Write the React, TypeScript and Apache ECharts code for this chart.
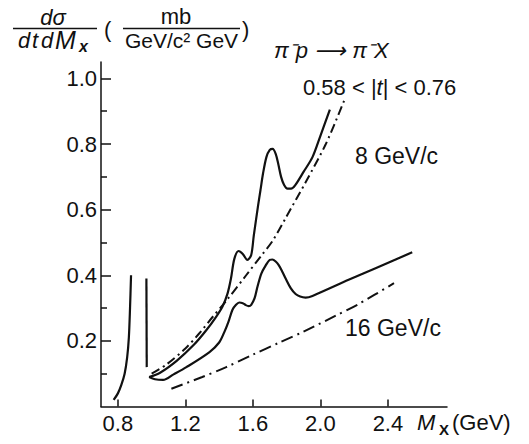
import React, { useEffect, useRef } from "react";
import * as echarts from "echarts";

const xTickValues = [0.8, 1.2, 1.6, 2.0, 2.4];
const yMajorValues = [0.2, 0.4, 0.6, 0.8, 1.0];
const yMinorValues = [0.1, 0.3, 0.5, 0.7, 0.9];

const leftSpike: [number, number][] = [
  [0.775, 0.02], [0.8, 0.04], [0.82, 0.065], [0.84, 0.1], [0.855, 0.15],
  [0.865, 0.21], [0.872, 0.3], [0.878, 0.4],
];
const rightEdge: [number, number][] = [
  [0.969, 0.39], [0.971, 0.12],
];
const solid8: [number, number][] = [
  [0.985, 0.09], [1.05, 0.103], [1.15, 0.14], [1.25, 0.188], [1.32, 0.23], [1.38, 0.272],
  [1.42, 0.305], [1.45, 0.345], [1.47, 0.39], [1.49, 0.45], [1.515, 0.474], [1.54, 0.465],
  [1.567, 0.447], [1.59, 0.462], [1.605, 0.52], [1.63, 0.61], [1.645, 0.66], [1.66, 0.71],
  [1.68, 0.76], [1.7, 0.782], [1.717, 0.785], [1.735, 0.77], [1.75, 0.74], [1.767, 0.7],
  [1.785, 0.675], [1.805, 0.664], [1.826, 0.664], [1.85, 0.674], [1.9, 0.715], [1.953, 0.76],
  [2.0, 0.825], [2.056, 0.905],
];
const solid16: [number, number][] = [
  [0.985, 0.09], [1.02, 0.083], [1.068, 0.081], [1.13, 0.098], [1.206, 0.12], [1.343, 0.166],
  [1.4, 0.195], [1.43, 0.226], [1.455, 0.258], [1.479, 0.295], [1.5, 0.31], [1.519, 0.317],
  [1.54, 0.315], [1.558, 0.309], [1.575, 0.306], [1.59, 0.31], [1.61, 0.33], [1.627, 0.365],
  [1.65, 0.405], [1.676, 0.43], [1.7, 0.447], [1.715, 0.448], [1.735, 0.442], [1.754, 0.43],
  [1.775, 0.41], [1.794, 0.39], [1.825, 0.36], [1.853, 0.343], [1.88, 0.335], [1.912, 0.332],
  [1.953, 0.337], [2.167, 0.386], [2.544, 0.47],
];
const bg8: [number, number][] = [
  [1.0, 0.1], [1.088, 0.128], [1.2, 0.177], [1.284, 0.224], [1.36, 0.272], [1.442, 0.322],
  [1.56, 0.4], [1.65, 0.46], [1.717, 0.505], [1.8, 0.58], [1.914, 0.685], [2.032, 0.8], [2.142, 0.934],
];
const bg16: [number, number][] = [
  [1.117, 0.054], [1.3, 0.09], [1.442, 0.12], [1.6, 0.158], [1.757, 0.195], [1.9, 0.228],
  [2.091, 0.277], [2.229, 0.313], [2.436, 0.376],
];

const FONT = "'Liberation Sans', Arial, sans-serif";
const INK = "#111";

export default function App() {
  const ref = useRef<HTMLDivElement>(null);
  useEffect(() => {
    document.body.style.margin = "0";
    const chart = echarts.init(ref.current!, undefined, { renderer: "svg" });
    const solid = { color: INK, width: 2.2, type: "solid" as const };
    const line = (name: string, data: [number, number][], lineStyle: any, smooth: number | boolean = 0.3) => ({
      type: "line",
      name,
      data,
      smooth,
      showSymbol: false,
      symbol: "none",
      lineStyle,
      silent: true,
    });
    chart.setOption({
      animation: false,
      backgroundColor: "#fff",
      grid: { left: 101, right: 82, top: 62, bottom: 37.5 },
      xAxis: {
        type: "value",
        min: 0.7,
        max: 2.75,
        axisLine: { onZero: false, lineStyle: { color: INK, width: 1.5 } },
        axisTick: { inside: true, length: 7, customValues: xTickValues, lineStyle: { color: INK, width: 1.5 } },
        axisLabel: {
          customValues: xTickValues,
          margin: 6,
          color: INK,
          fontFamily: FONT,
          fontSize: 22,
          formatter: (v: number) => v.toFixed(1),
        },
        splitLine: { show: false },
      },
      yAxis: [
        {
          type: "value",
          position: "left",
          min: 0,
          max: 1.05,
          axisLine: { show: true, onZero: false, lineStyle: { color: INK, width: 1.5 } },
          axisTick: { show: true, inside: true, length: 10, customValues: yMajorValues, lineStyle: { color: INK, width: 1.5 } },
          axisLabel: {
            customValues: yMajorValues,
            margin: 4,
            color: INK,
            fontFamily: FONT,
            fontSize: 22,
            formatter: (v: number) => v.toFixed(1),
          },
          splitLine: { show: false },
        },
        {
          type: "value",
          position: "left",
          offset: 0,
          min: 0,
          max: 1.05,
          axisLine: { show: false, onZero: false },
          axisTick: { show: true, inside: true, length: 6, customValues: yMinorValues, lineStyle: { color: INK, width: 1.5 } },
          axisLabel: { show: false },
          splitLine: { show: false },
        },
      ],
      series: [
        line("spike left", leftSpike, solid, 0.3),
        line("spike right", rightEdge, solid, false),
        line("8 GeV/c", solid8, solid, 0.3),
        line("16 GeV/c", solid16, solid, 0.3),
        line("8 GeV/c background", bg8, { color: INK, width: 2, type: [9, 4, 2, 4] }, 0.3),
        line("16 GeV/c background", bg16, { color: INK, width: 2, type: [12, 5, 2, 5] }, 0.3),
      ],
      graphic: [
        { type: "text", x: 53, y: 17, style: { text: "dσ", font: `italic 22px ${FONT}`, fill: INK, align: "center", verticalAlign: "middle" } },
        { type: "line", shape: { x1: 13, y1: 28.5, x2: 97, y2: 28.5 }, style: { stroke: INK, lineWidth: 1.5 } },
        { type: "text", x: 18, y: 40, style: { text: "d", font: `italic 22px ${FONT}`, fill: INK, verticalAlign: "middle" } },
        { type: "text", x: 32, y: 40, style: { text: "t", font: `italic 22px ${FONT}`, fill: INK, verticalAlign: "middle" } },
        { type: "text", x: 41, y: 40, style: { text: "d", font: `italic 22px ${FONT}`, fill: INK, verticalAlign: "middle" } },
        { type: "text", x: 55, y: 40, style: { text: "M", font: `italic 25px ${FONT}`, fill: INK, verticalAlign: "middle" } },
        { type: "text", x: 79, y: 46, style: { text: "x", font: `italic bold 16px ${FONT}`, fill: INK, verticalAlign: "middle" } },
        { type: "text", x: 104, y: 29, style: { text: "(", font: `22px ${FONT}`, fill: INK, verticalAlign: "middle" } },
        { type: "text", x: 176, y: 16, style: { text: "mb", font: `22px ${FONT}`, fill: INK, align: "center", verticalAlign: "middle" } },
        { type: "line", shape: { x1: 123, y1: 28.5, x2: 240, y2: 28.5 }, style: { stroke: INK, lineWidth: 1.5 } },
        { type: "text", x: 181.5, y: 40, style: { text: "GeV/c² GeV", font: `21px ${FONT}`, fill: INK, align: "center", verticalAlign: "middle" } },
        { type: "text", x: 242, y: 29, style: { text: ")", font: `22px ${FONT}`, fill: INK, verticalAlign: "middle" } },
        { type: "text", x: 274, y: 50, style: { text: "π⁻p ⟶ π⁻X", font: `italic 22px ${FONT}`, fill: INK, verticalAlign: "middle" } },
        {
          type: "text", x: 303, y: 87,
          style: {
            text: "0.58 < |{i|t}| < 0.76",
            font: `22px ${FONT}`, fill: INK, verticalAlign: "middle",
            rich: { i: { fontStyle: "italic", fontSize: 22, fontFamily: FONT, fill: INK } },
          },
        },
        { type: "text", x: 355, y: 156, style: { text: "8 GeV/c", font: `23px ${FONT}`, fill: INK, verticalAlign: "middle" } },
        { type: "text", x: 345, y: 328, style: { text: "16 GeV/c", font: `23px ${FONT}`, fill: INK, verticalAlign: "middle" } },
        { type: "text", x: 417, y: 422, style: { text: "M", font: `italic 22px ${FONT}`, fill: INK, verticalAlign: "middle" } },
        { type: "text", x: 439, y: 429, style: { text: "X", font: `bold 15px ${FONT}`, fill: INK, verticalAlign: "middle" } },
        { type: "text", x: 452, y: 422, style: { text: "(GeV)", font: `22px ${FONT}`, fill: INK, verticalAlign: "middle" } },
      ],
    });
    return () => chart.dispose();
  }, []);
  return <div ref={ref} style={{ position: "absolute", left: 0, top: 0, width: 529, height: 444 }} />;
}
